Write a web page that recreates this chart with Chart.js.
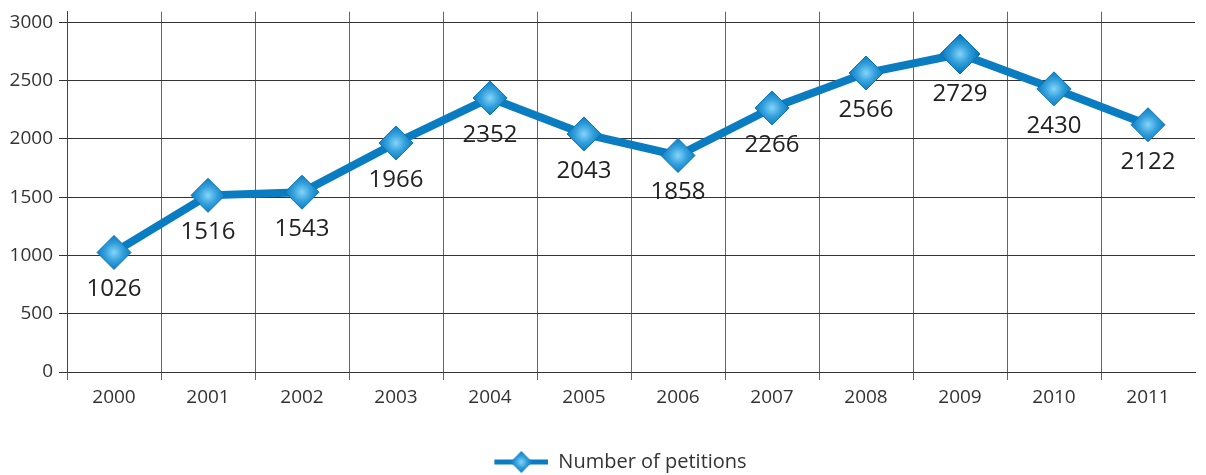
<!DOCTYPE html>
<html>
<head>
<meta charset="utf-8">
<script src="https://cdn.jsdelivr.net/npm/chart.js@4/dist/chart.umd.min.js"></script>
<style>
  html, body { margin: 0; padding: 0; background: #fff; }
  #chart { display: block; }
</style>
</head>
<body>
<canvas id="chart" width="1206" height="475"></canvas>
<script>
// chart data
var years = ['2000', '2001', '2002', '2003', '2004', '2005', '2006', '2007', '2008', '2009', '2010', '2011'];
var petitions = [1026, 1516, 1543, 1966, 2352, 2043, 1858, 2266, 2566, 2729, 2430, 2122];
var yTicks = [0, 500, 1000, 1500, 2000, 2500, 3000];
var seriesName = 'Number of petitions';

var BLUE = '#0a7cc2';
var FONT = '"Open Sans", "Noto Sans", sans-serif';

function addStops(g) {
    g.addColorStop(0, '#86d4f8');
    g.addColorStop(0.5, '#33a0dc');
    g.addColorStop(1, '#0a78bd');
    return g;
}

// diamond fill with a light centre
function diamondFill(c) {
    var chart = c.chart;
    if (c.type !== 'data' || !chart.scales.x || !chart.scales.y) {
        return BLUE;
    }
    var x = chart.scales.x.getPixelForValue(c.dataIndex);
    var y = chart.scales.y.getPixelForValue(c.parsed.y);
    if (!isFinite(x) || !isFinite(y)) {
        return BLUE;
    }
    return addStops(chart.ctx.createRadialGradient(x, y, 0, x, y, 18));
}

function markerRadius(c) {
    if (c.type !== 'data') return 17;
    return c.raw === Math.max.apply(null, petitions) ? 20 : 17;
}

// legend marker: line with a diamond on it (left part kept blank to push the item right)
var LEG_PAD = 46;
function legendMarker() {
    var cv = document.createElement('canvas');
    cv.width = 54 + LEG_PAD;
    cv.height = 24;
    var ctx = cv.getContext('2d');
    ctx.translate(LEG_PAD, 0);
    ctx.strokeStyle = BLUE;
    ctx.lineWidth = 5;
    ctx.beginPath();
    ctx.moveTo(0, 12);
    ctx.lineTo(54, 12);
    ctx.stroke();
    ctx.fillStyle = addStops(ctx.createRadialGradient(27, 12, 0, 27, 12, 11));
    ctx.beginPath();
    ctx.moveTo(16, 12);
    ctx.lineTo(27, 1);
    ctx.lineTo(38, 12);
    ctx.lineTo(27, 23);
    ctx.closePath();
    ctx.fill();
    return cv;
}

// value labels under each point
var valueLabels = {
    id: 'valueLabels',
    afterDatasetsDraw: function(chart) {
        var ctx = chart.ctx;
        var meta = chart.getDatasetMeta(0);
        ctx.save();
        ctx.font = '24px ' + FONT;
        ctx.fillStyle = '#222';
        ctx.textAlign = 'center';
        ctx.textBaseline = 'middle';
        meta.data.forEach(function(pt, i) {
            var r = pt.options.radius;
            ctx.fillText(String(petitions[i]), pt.x, pt.y + r + 20);
        });
        ctx.restore();
    }
};

new Chart(document.getElementById('chart').getContext('2d'), {
    type: 'line',
    data: {
        labels: years,
        datasets: [{
            label: seriesName,
            data: petitions,
            borderColor: BLUE,
            borderWidth: 8,
            tension: 0,
            fill: false,
            pointStyle: 'rectRot',
            pointRadius: markerRadius,
            pointBackgroundColor: diamondFill,
            pointBorderColor: '#0a74b6',
            pointBorderWidth: 1
        }]
    },
    options: {
        responsive: false,
        animation: false,
        events: [],
        layout: {
            autoPadding: false,
            padding: { left: 0, right: 11, top: 0, bottom: -7 }
        },
        plugins: {
            tooltip: { enabled: false },
            legend: {
                position: 'bottom',
                labels: {
                    usePointStyle: true,
                    pointStyle: legendMarker(),
                    pointStyleWidth: 54 + LEG_PAD,
                    color: '#333',
                    font: { family: FONT, size: 20 },
                    padding: 3
                }
            }
        },
        scales: {
            x: {
                offset: true,
                grid: {
                    offset: true,
                    color: function(c) { return c.type === 'tick' ? '#666' : 'rgba(0,0,0,0)'; },
                    lineWidth: 1,
                    tickLength: 8
                },
                border: { color: '#333' },
                ticks: {
                    color: '#333',
                    font: { family: FONT, size: 19 },
                    padding: 6,
                    maxRotation: 0
                },
                afterFit: function(axis) {
                    axis.height = 77;
                }
            },
            y: {
                min: 0,
                max: 3092,
                afterBuildTicks: function(axis) {
                    axis.ticks = yTicks.map(function(v) { return { value: v }; });
                },
                afterFit: function(axis) {
                    axis.width = 67;
                },
                grid: {
                    color: '#333',
                    lineWidth: 1,
                    tickLength: 8
                },
                border: { color: '#444' },
                ticks: {
                    color: '#333',
                    font: { family: FONT, size: 19, lineHeight: 0.6 },
                    padding: 6,
                    callback: function(v) { return String(v); }
                }
            }
        }
    },
    plugins: [valueLabels]
});
</script>
</body>
</html>
